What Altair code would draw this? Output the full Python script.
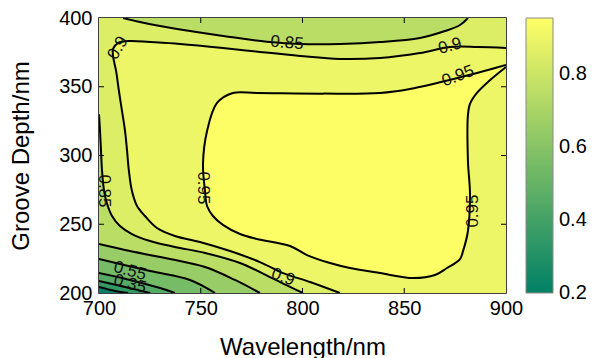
import altair as alt
import pandas as pd

# ---------------- data ----------------
# filled-contour levels (colour of each band = its lower level)
levels = [0.2, 0.35, 0.45, 0.55, 0.65, 0.75, 0.85, 0.9, 0.95]

# contour lines: wavelength (nm) / groove depth (nm)
c35_x = [700, 707.9, 714.3]
c35_y = [204.4, 201.5, 200]
c45_x = [700, 712.8, 725.1]
c45_y = [208.7, 204.4, 200]
c55_x = [700, 715.2, 730, 737.3]
c55_y = [214.5, 209.5, 203.6, 200]
c65_x = [700, 725.1, 744.7, 757]
c65_y = [224.7, 216, 209.5, 200]
c75_x = [700, 715.2, 734.9, 752.1, 766.8, 779.1]
c75_y = [235.6, 230.5, 224.7, 218.9, 209.5, 200]
c85_top_x = [711.8, 720.1, 730, 744.7, 764.4, 784, 798.8, 818.4, 838.1, 857.7, 870, 877.4, 881.3]
c85_top_y = [400, 397.1, 394.2, 390.5, 386.2, 382.5, 381.1, 381.1, 382.5, 385.5, 390.5, 394.9, 400]
c85_left_x = [700, 700.5, 701, 701.5, 702.5, 704, 706.4, 710.3, 716.2, 725.1, 737.3, 752.1, 769.3, 784, 793.9, 800.2]
c85_left_y = [330, 317.8, 303.3, 288.7, 274.2, 264.7, 256, 248.7, 242.9, 237.8, 233.5, 229.1, 221.8, 211.6, 204.4, 200]
c90_x = [900, 886.2, 872.5, 857.7, 838.1, 818.4, 798.8, 779.1, 760.9, 739.8, 725.1, 715.2, 709.3, 706.9,
         706.9, 708.4, 709.8, 711.3, 712.8, 713.8, 714.7, 716.2, 718.7, 722.6, 728.5, 737.3, 749.6, 764.4,
         779.1, 790.4, 803.7, 818.4]
c90_y = [378.2, 378.9, 378.9, 374.5, 370.9, 370.2, 372.4, 375.3, 378.2, 381.1, 382.5, 383.3, 381.8, 377.5,
         372.4, 361.5, 346.9, 332.4, 317.8, 303.3, 288.7, 274.2, 263.3, 256, 247.3, 241.5, 237.1, 230.5,
         222.5, 214.5, 208, 200]
c95_x = [900, 876.4, 852.8, 838.1, 810.1, 777.6, 765.8, 758, 753.1, 751.1, 752.1, 753.1, 756, 760.9, 769.3,
         777.6, 793.9, 802.2, 813.5, 823.3, 838.1, 854.3, 865.1, 871, 877.4, 878.9, 881.3, 882.3, 881.3,
         881.3, 882.3, 885.7, 891.5, 900]
c95_y = [365.8, 356.4, 348.4, 345.5, 345, 345.5, 345.5, 338.2, 317.8, 293.8, 274.2, 263.3, 256, 249.5, 242.9,
         239.3, 234.2, 227.6, 221.8, 218.2, 214.5, 210.9, 213.1, 218.2, 224.7, 230.5, 245.1, 272, 296,
         329.5, 337.5, 345.5, 354, 364.4]

# contour labels
lab_text = ["0.85", "0.9", "0.9", "0.95", "0.85", "0.95", "0.95", "0.9", "0.55", "0.35"]
lab_x = [792.4, 709.3, 872.5, 876.4, 702.5, 751.1, 883.8, 790.4, 715.2, 715.2]
lab_y = [381.8, 378.2, 379.6, 357.8, 274.2, 276.4, 259.6, 211.6, 216, 206.5]
lab_angle = [5, 300, 345, 340, 90, 90, 270, 20, 15, 15]

x_ticks = [700, 750, 800, 850, 900]
y_ticks = [200, 250, 300, 350, 400]
cbar_ticks = [0.2, 0.4, 0.6, 0.8]
cmin, cmax = 0.199, 0.955
summer_lo, summer_hi = "#008066", "#ffff66"

X0, X1, Y0, Y1 = 700, 900, 200, 400

# ---------------- build superlevel polygons ----------------
def poly(xs, ys):
    return list(zip(xs, ys))

def corner_fill(cx, cy):
    # contour from left edge to bottom edge; region above/right of it
    return poly(cx, cy) + [(X1, Y0), (X1, Y1), (X0, Y1)]

polys = {
    0.2: [(X0, Y0), (X1, Y0), (X1, Y1), (X0, Y1)],
    0.35: corner_fill(c35_x, c35_y),
    0.45: corner_fill(c45_x, c45_y),
    0.55: corner_fill(c55_x, c55_y),
    0.65: corner_fill(c65_x, c65_y),
    0.75: corner_fill(c75_x, c75_y),
    0.85: [(X0, Y1)] + poly(c85_top_x, c85_top_y) + [(X1, Y1), (X1, Y0)]
          + poly(c85_left_x[::-1], c85_left_y[::-1]),
    0.9: poly(c90_x, c90_y) + [(X1, Y0)],
    0.95: poly(c95_x, c95_y),
}

xs = alt.Scale(domain=[X0, X1], nice=False, zero=False)
ys = alt.Scale(domain=[Y0, Y1], nice=False, zero=False)
cscale = alt.Scale(domain=[cmin, cmax], range=[summer_lo, summer_hi], interpolate="rgb")

FONT = "Liberation Sans"
INTERP = "catmull-rom"

layers = []
for k, lev in enumerate(levels):
    pts = polys[lev]
    df = pd.DataFrame({"x": [p[0] for p in pts], "y": [p[1] for p in pts],
                       "i": list(range(len(pts))), "level": lev})
    if k == 0:
        col = alt.Color("level:Q", scale=cscale, legend=alt.Legend(
            title=None, orient="right", offset=20, gradientLength=275,
            gradientThickness=27, values=cbar_ticks, format=".1f",
            labelFontSize=20, labelFont=FONT, labelColor="black",
            labelOffset=6, padding=0,
            gradientStrokeColor="#8a8a8a", gradientStrokeWidth=1))
    else:
        col = alt.Color("level:Q", scale=cscale, legend=None)
    enc = dict(
        x=alt.X("x:Q", scale=xs, axis=alt.Axis(values=x_ticks, title="Wavelength/nm",
                                               labelFlush=False, labelPadding=5, titlePadding=17)),
        y=alt.Y("y:Q", scale=ys, axis=alt.Axis(values=y_ticks, title="Groove Depth/nm",
                                               labelFlush=False, labelPadding=7, titlePadding=25)),
        order="i:Q",
        color=col,
    )
    layers.append(alt.Chart(df).mark_line(filled=True, clip=True, strokeWidth=0,
                                          interpolate=INTERP).encode(**enc))

# contour lines
pieces = [("c35", c35_x, c35_y), ("c45", c45_x, c45_y), ("c55", c55_x, c55_y),
          ("c65", c65_x, c65_y), ("c75", c75_x, c75_y), ("c85t", c85_top_x, c85_top_y),
          ("c85l", c85_left_x, c85_left_y), ("c90", c90_x, c90_y), ("c95", c95_x, c95_y)]
rows = []
for name, px, py in pieces:
    for i, (a, b) in enumerate(zip(px, py)):
        rows.append({"piece": name, "i": i, "x": a, "y": b})
lines_df = pd.DataFrame(rows)
layers.append(alt.Chart(lines_df).mark_line(color="black", strokeWidth=2, clip=True,
                                            interpolate=INTERP).encode(
    x=alt.X("x:Q", scale=xs), y=alt.Y("y:Q", scale=ys), detail="piece:N", order="i:Q"))

# labels
lab_df = pd.DataFrame({"x": lab_x, "y": lab_y, "t": lab_text, "a": lab_angle})
layers.append(alt.Chart(lab_df).mark_text(font=FONT, fontSize=17, color="#111111",
                                          align="center", baseline="middle").encode(
    x=alt.X("x:Q", scale=xs), y=alt.Y("y:Q", scale=ys), text="t:N",
    angle=alt.Angle("a:Q", scale=None)))

# inward ticks on all four sides
xt = pd.DataFrame({"v": x_ticks[1:-1]})
yt = pd.DataFrame({"v": y_ticks[1:-1]})
W, H, T = 407, 275, 5
layers.append(alt.Chart(xt).mark_rule(color="black", strokeWidth=1).encode(
    x=alt.X("v:Q", scale=xs), y=alt.value(H), y2=alt.value(H - T)))
layers.append(alt.Chart(xt).mark_rule(color="black", strokeWidth=1).encode(
    x=alt.X("v:Q", scale=xs), y=alt.value(0), y2=alt.value(T)))
layers.append(alt.Chart(yt).mark_rule(color="black", strokeWidth=1).encode(
    y=alt.Y("v:Q", scale=ys), x=alt.value(0), x2=alt.value(T)))
layers.append(alt.Chart(yt).mark_rule(color="black", strokeWidth=1).encode(
    y=alt.Y("v:Q", scale=ys), x=alt.value(W), x2=alt.value(W - T)))

chart = alt.layer(*layers).properties(
    width=W, height=H, autosize="none",
    padding={"left": 91, "top": 10, "right": 88, "bottom": 65},
).configure_view(stroke="black", strokeWidth=1.5).configure_axis(
    domain=False, ticks=False, grid=False,
    labelFont=FONT, labelFontSize=20, labelColor="black",
    titleFont=FONT, titleFontSize=24, titleFontWeight="normal", titleColor="black",
).configure_legend(padding=0)

chart.save("out.html", embed_options={"renderer": "svg", "actions": False})
